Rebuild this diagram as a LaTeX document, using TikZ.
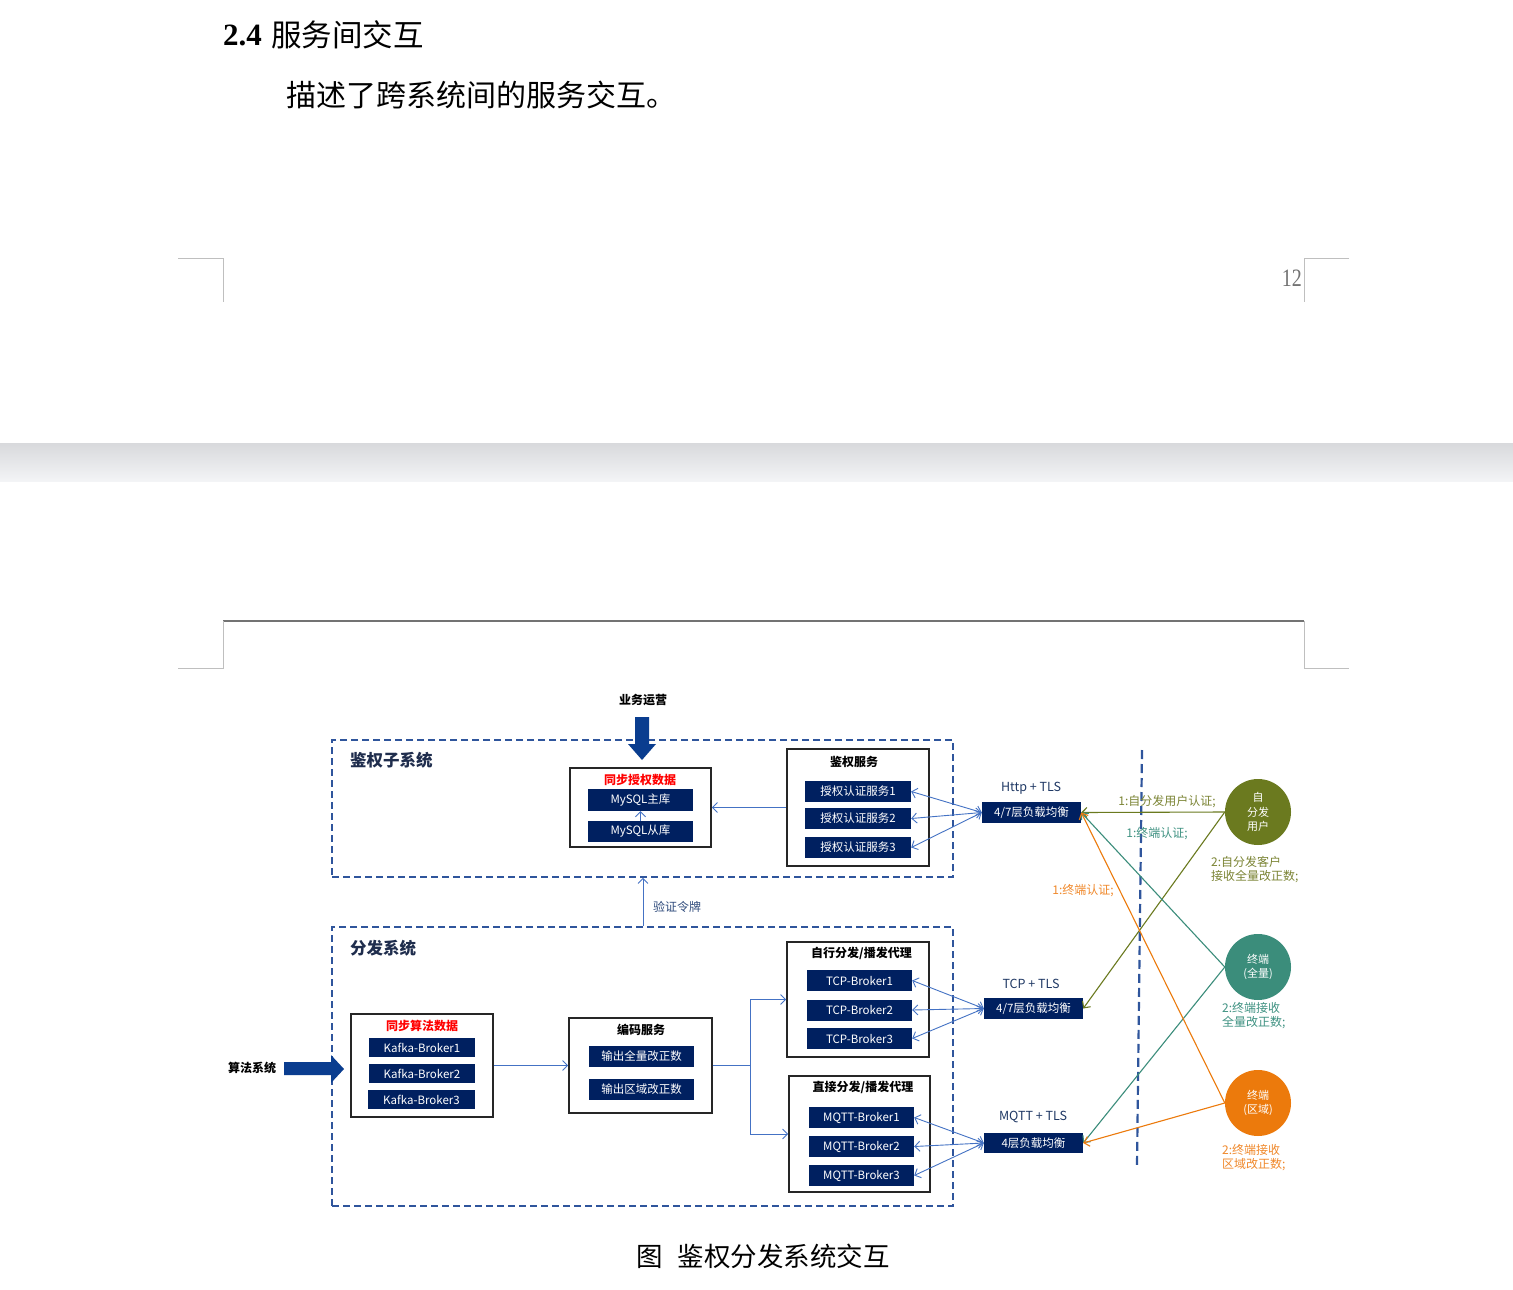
\documentclass[tikz,border=0pt]{standalone}
\usepackage{fontspec}
\setmainfont{Liberation Serif}
\newfontfamily\cjk{Noto Sans CJK SC}
\usetikzlibrary{arrows.meta}
\newcommand\fsz[1]{\fontsize{#1}{#1}\selectfont}
\definecolor{navy}{HTML}{002060}
\definecolor{lnblue}{HTML}{4472C4}
\definecolor{dblue}{HTML}{2F559C}
\definecolor{thickblue}{HTML}{0A3D8F}
\definecolor{olv}{HTML}{6B7A1F}
\definecolor{olvt}{HTML}{7B8434}
\definecolor{tel}{HTML}{3B8D7B}
\definecolor{telt}{HTML}{3F9282}
\definecolor{org}{HTML}{EC7A0C}
\definecolor{orgt}{HTML}{F0882A}
\definecolor{lbl}{HTML}{1F3864}
\definecolor{ttlnavy}{HTML}{1F2D4D}
\tikzset{
  navybox/.style={fill=navy, text=white, inner sep=0pt, font=\cjk\fsz{11.5}},
  boxframe/.style={draw=black!85, line width=1.6pt, fill=white, inner sep=0pt},
  ttl/.style={font=\cjk\bfseries\fsz{12}, inner sep=0pt},
  dbox/.style={draw=dblue, line width=1.6pt, dash pattern=on 7pt off 4pt},
  barb/.tip={Straight Barb[length=5pt,width=10pt]},
  arr/.style={draw=lnblue, line width=0.9pt, -barb},
  darr/.style={draw=lnblue, line width=0.9pt, barb-barb},
  carr/.style={line width=1.1pt, -barb},
  lbltxt/.style={font=\cjk\fsz{12.5}, text=lbl, inner sep=0pt},
  circ/.style={circle, minimum size=66pt, inner sep=0pt, text=white, font=\cjk\fontsize{11}{14.5}\selectfont, align=center},
  sidelbl/.style={font=\cjk\fontsize{12}{14}\selectfont, inner sep=0pt, align=left, anchor=west},
  cornermark/.style={draw=black!25, line width=1pt}
}
\begin{document}
\begin{tikzpicture}[x=1pt,y=-1pt]
\useasboundingbox (0,0) rectangle (1513,1290);
\fill[white] (0,0) rectangle (1513,1290);

% ---------- page header part ----------
\node[anchor=west, inner sep=0pt] (hnum) at (223,35) {\fsz{31}\bfseries 2.4};
\node[anchor=west, inner sep=0pt] (htxt) at (271,35) {\cjk\fsz{30.5}服务间交互};
\node[anchor=west, inner sep=0pt] (body) at (286,95) {\cjk\fsz{30}描述了跨系统间的服务交互。};
\draw[cornermark] (178,258) -- (223,258) -- (223,302);
\draw[cornermark] (1349,258) -- (1304,258) -- (1304,302);
\node[anchor=east, inner sep=0pt, text=black!55] (pnum) at (1302,278) {\scalebox{0.8}[1]{\fsz{25}12}};
\shade[top color={rgb,255:red,216;green,217;blue,220}, bottom color={rgb,255:red,243;green,244;blue,246}] (0,443) rectangle (1513,481);
\draw[draw=black!55, line width=1.8pt] (223,621) -- (1304,621);
\draw[cornermark] (223,621) -- (223,668) -- (178,668);
\draw[cornermark] (1304,621) -- (1304,668) -- (1349,668);

% ---------- dashed system boxes ----------
\node[dbox, minimum width=621pt, minimum height=137pt, inner sep=0pt] (db1) at (642.5,808.5) {};
\node[dbox, minimum width=621pt, minimum height=279pt, inner sep=0pt] (db2) at (642.5,1066.5) {};
\node[anchor=west, inner sep=0pt, text=ttlnavy, font=\cjk\bfseries\fsz{16.5}] (t1) at (350,760) {鉴权子系统};
\node[anchor=west, inner sep=0pt, text=ttlnavy, font=\cjk\bfseries\fsz{16.5}] (t2) at (350,948) {分发系统};

% ---------- external inputs ----------
\node[ttl] (ywyy) at (643,700) {业务运营};
\fill[thickblue] (635,717) -- (649,717) -- (649,744) -- (656,744) -- (642,760) -- (628,744) -- (635,744) -- cycle;
\node[ttl] (sfxt) at (252,1068) {算法系统};
\fill[thickblue] (284,1062) -- (331,1062) -- (331,1055) -- (344,1069) -- (331,1083) -- (331,1075) -- (284,1075) -- cycle;

% ---------- 鉴权子系统 ----------
\node[boxframe, minimum width=141pt, minimum height=79pt] (sync) at (640.5,807.5) {};
\node[ttl, text=red] (syncT) at (640,780) {同步授权数据};
\node[navybox, minimum width=105pt, minimum height=22pt] (m1) at (640.5,800) {MySQL主库};
\node[navybox, minimum width=105pt, minimum height=21pt] (m2) at (640.5,831.5) {MySQL从库};
\draw[arr] (m2.north) -- (m1.south);

\node[boxframe, minimum width=142pt, minimum height=117pt] (auth) at (858,807.5) {};
\node[ttl] (authT) at (854,762) {鉴权服务};
\node[navybox, minimum width=106pt, minimum height=21pt] (a1) at (858,791.5) {授权认证服务1};
\node[navybox, minimum width=106pt, minimum height=21pt] (a2) at (858,818.5) {授权认证服务2};
\node[navybox, minimum width=106pt, minimum height=21pt] (a3) at (858,847.5) {授权认证服务3};
\draw[arr] (auth.west) -- (auth.west -| sync.east);

% ---------- 分发系统 ----------
\node[boxframe, minimum width=142pt, minimum height=103pt] (kbox) at (422,1065.5) {};
\node[ttl, text=red] (kT) at (422,1026) {同步算法数据};
\node[navybox, minimum width=106pt, minimum height=19pt] (k1) at (422,1047.5) {Kafka-Broker1};
\node[navybox, minimum width=106pt, minimum height=19pt] (k2) at (422,1073.5) {Kafka-Broker2};
\node[navybox, minimum width=107pt, minimum height=19pt] (k3) at (421.5,1099.5) {Kafka-Broker3};

\node[boxframe, minimum width=143pt, minimum height=95pt] (enc) at (640.5,1065.5) {};
\node[ttl] (encT) at (641,1030) {编码服务};
\node[navybox, minimum width=105pt, minimum height=21pt] (e1) at (641.5,1056.5) {输出全量改正数};
\node[navybox, minimum width=105pt, minimum height=21pt] (e2) at (641.5,1089.5) {输出区域改正数};
\draw[arr] (kbox.east) -- (kbox.east -| enc.west);

\node[boxframe, minimum width=142pt, minimum height=115pt] (tcp) at (858,999.5) {};
\node[ttl] (tcpT) at (861.5,953) {自行分发/播发代理};
\node[navybox, minimum width=105pt, minimum height=21pt] (p1) at (859.5,980.5) {TCP-Broker1};
\node[navybox, minimum width=105pt, minimum height=21pt] (p2) at (859.5,1010) {TCP-Broker2};
\node[navybox, minimum width=105pt, minimum height=21pt] (p3) at (859.5,1038.5) {TCP-Broker3};

\node[boxframe, minimum width=141pt, minimum height=116pt] (mq) at (859.5,1134) {};
\node[ttl] (mqT) at (863,1087) {直接分发/播发代理};
\node[navybox, minimum width=105pt, minimum height=21pt] (q1) at (861.5,1117.5) {MQTT-Broker1};
\node[navybox, minimum width=105pt, minimum height=21pt] (q2) at (861.5,1146.5) {MQTT-Broker2};
\node[navybox, minimum width=105pt, minimum height=21pt] (q3) at (861.5,1175.5) {MQTT-Broker3};

\coordinate (sp) at (750,1065.5);
\draw[draw=lnblue, line width=0.9pt] (enc.east) -- (sp);
\draw[arr] (sp) |- (tcp.west);
\draw[arr] (sp) |- (mq.west);

% ---------- 验证令牌 ----------
\coordinate (vt) at (643,0);
\draw[arr] (db2.north -| vt) -- (db1.south -| vt);
\node[anchor=west, inner sep=0pt, font=\cjk\fsz{12}, text={rgb,255:red,47;green,75;blue,124}] (vtl) at (653,907) {验证令牌};

% ---------- load balancers ----------
\node[navybox, font=\cjk\fsz{11.5}, minimum width=99pt, minimum height=21pt] (lb1) at (1031.5,812.5) {4/7层负载均衡};
\node[navybox, font=\cjk\fsz{11.5}, minimum width=99pt, minimum height=21pt] (lb2) at (1033.5,1008.5) {4/7层负载均衡};
\node[navybox, font=\cjk\fsz{11.5}, minimum width=99pt, minimum height=20pt] (lb3) at (1033.5,1143) {4层负载均衡};
\node[lbltxt] (lb1t) at (1031,788) {Http + TLS};
\node[lbltxt] (lb2t) at (1031,984) {TCP + TLS};
\node[lbltxt] (lb3t) at (1033,1117) {MQTT + TLS};

\draw[darr] (lb1.west) -- (a1.east);
\draw[darr] (lb1.west) -- (a2.east);
\draw[darr] (lb1.west) -- (a3.east);
\draw[darr] (lb2.west) -- (p1.east);
\draw[darr] (lb2.west) -- (p2.east);
\draw[darr] (lb2.west) -- (p3.east);
\draw[darr] (lb3.west) -- (q1.east);
\draw[darr] (lb3.west) -- (q2.east);
\draw[darr] (lb3.west) -- (q3.east);

% ---------- boundary ----------
\coordinate (bd1) at (1142,750);
\coordinate (bd2) at (1137,1165);
\draw[draw=dblue, line width=2.2pt, dash pattern=on 9pt off 5pt] (bd1) -- (bd2);

% ---------- clients ----------
\node[circ, fill=olv] (c1) at (1258,812) {自\\分发\\用户};
\node[circ, fill=tel] (c2) at (1258,967) {终端\\(全量)};
\node[circ, fill=org] (c3) at (1258,1103) {终端\\(区域)};

\draw[carr, draw=olv] (c1.west) -- (lb1.east);
\draw[carr, draw=olv] (c1.west) -- (lb2.east);
\draw[carr, draw=tel] (c2.west) -- (lb1.east);
\draw[carr, draw=tel] (c2.west) -- (lb3.east);
\draw[carr, draw=org] (c3.west) -- (lb1.east);
\draw[carr, draw=org] (c3.west) -- (lb3.east);

\node[inner sep=0pt, font=\cjk\fsz{12}, text=olvt] (l1) at (1167,802) {1:自分发用户认证;};
\node[inner sep=0pt, font=\cjk\fsz{12}, text=telt] (l2) at (1157,834) {1:终端认证;};
\node[inner sep=0pt, font=\cjk\fsz{12}, text=orgt] (l3) at (1083,891) {1:终端认证;};

\node[sidelbl, text=olvt] (s1) at (1211,870) {2:自分发客户\\接收全量改正数;};
\node[sidelbl, text=telt] (s2) at (1222,1016) {2:终端接收\\全量改正数;};
\node[sidelbl, text=orgt] (s3) at (1222,1157.5) {2:终端接收\\区域改正数;};

% ---------- caption ----------
\node[inner sep=0pt] (cap) at (763,1256) {\cjk\fsz{26.5}图\hspace{15pt}鉴权分发系统交互};
\end{tikzpicture}
\end{document}
